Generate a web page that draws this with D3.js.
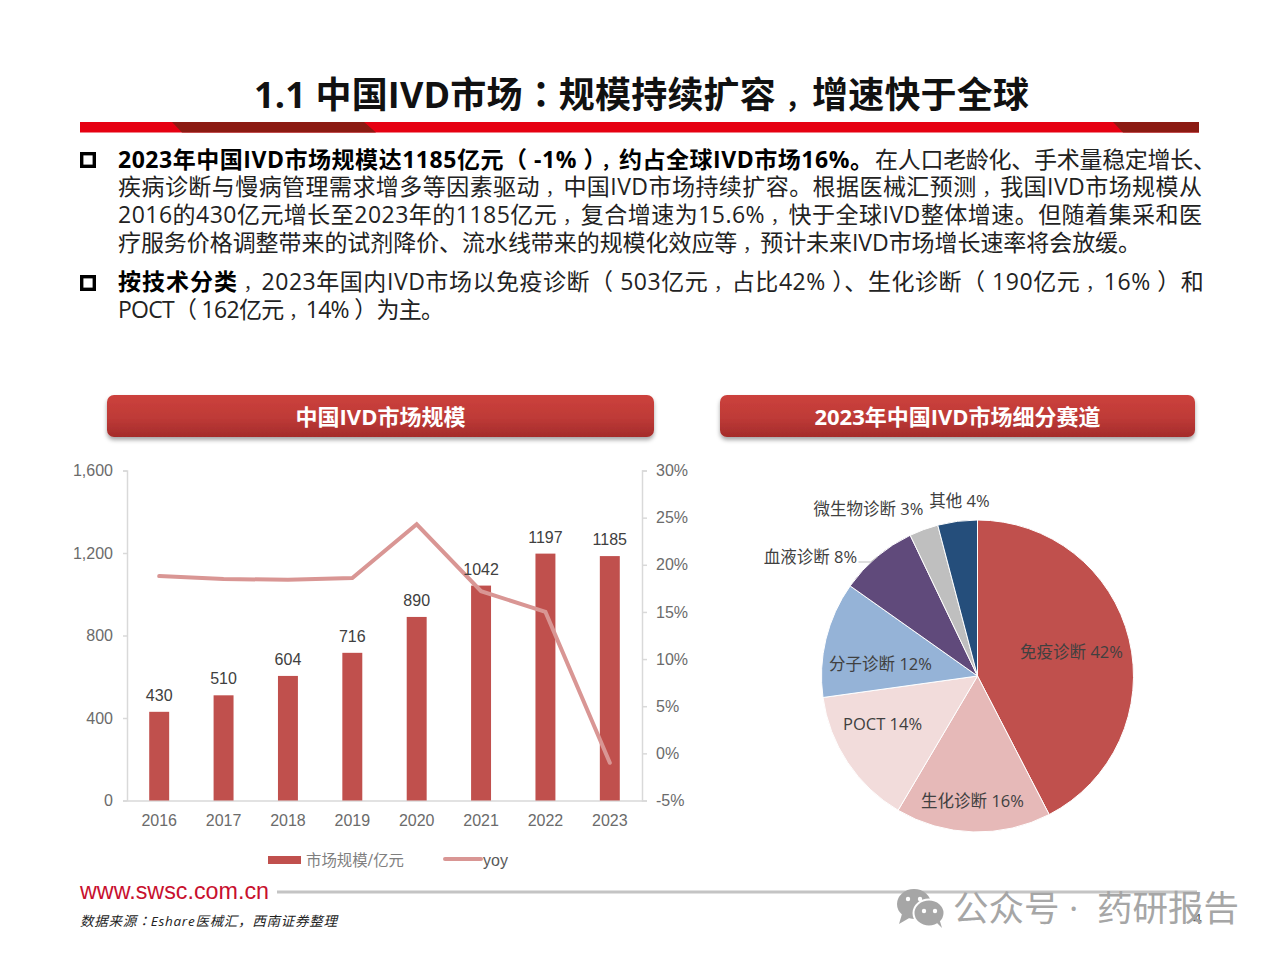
<!DOCTYPE html>
<html><head><meta charset="utf-8">
<script src="https://cdn.jsdelivr.net/npm/d3@7/dist/d3.min.js"></script>
<style>
@font-face{font-family:Punct;font-weight:400;src:local("Noto Sans CJK TC"),local("Noto Sans CJK TC Regular");unicode-range:U+FF1A}
@font-face{font-family:Punct;font-weight:700;src:local("Noto Sans CJK TC Bold");unicode-range:U+FF1A}
html,body{margin:0;padding:0;background:#fff}
svg{display:block}
text{font-family:Punct,"Open Sans","Noto Sans CJK SC",sans-serif}
</style></head><body>
<svg id="c" width="1280" height="960" viewBox="0 0 1280 960"></svg>
<script>
// ---------- data ----------
const years = ["2016","2017","2018","2019","2020","2021","2022","2023"];
const marketSize = [430,510,604,716,890,1042,1197,1185];
const yoy = [18.8,18.5,18.4,18.6,24.3,17.2,15.0,-1.0];
const leftTicks = [0,400,800,1200,1600];
const rightTicks = [-5,0,5,10,15,20,25,30];
const segNames = ["免疫诊断 42%","生化诊断 16%","POCT 14%","分子诊断 12%","血液诊断 8%","微生物诊断 3%","其他 4%"];
const segShares = [42.4,16.1,14.3,12.0,8.1,3.0,4.1];
const segColors = ["#C0504D","#E6B9B8","#F2DCDB","#95B3D7","#604A7B","#BFBFBF","#254E7B"];

const titleText = "1.1 中国IVD市场：规模持续扩容，增速快于全球";
// each piece: text, bold, left x, right x, baseline
const bodyPieces = [
  ["2023年中国IVD市场规模达1185亿元（ -1% ），约占全球IVD市场16%。",true,118,873,168],
  ["在人口老龄化、手术量稳定增长、",false,875,1216,168],
  ["疾病诊断与慢病管理需求增多等因素驱动，中国IVD市场持续扩容。根据医械汇预测，我国IVD市场规模从",false,118,1202,195],
  ["2016的430亿元增长至2023年的1185亿元，复合增速为15.6%，快于全球IVD整体增速。但随着集采和医",false,118,1202,223],
  ["疗服务价格调整带来的试剂降价、流水线带来的规模化效应等，预计未来IVD市场增长速率将会放缓。",false,118,1141,251],
  ["按技术分类",true,118,237,290],
  ["，2023年国内IVD市场以免疫诊断（ 503亿元，占比42% ）、生化诊断（ 190亿元，16% ）和",false,238,1198,290],
  ["POCT（ 162亿元，14% ）为主。",false,118,444,318]
];

// ---------- layout ----------
const svg = d3.select("#c");
const defs = svg.append("defs");
const grad = defs.append("linearGradient").attr("id","hdr").attr("x1",0).attr("x2",0).attr("y1",0).attr("y2",1);
grad.append("stop").attr("offset","0").attr("stop-color","#CC413C");
grad.append("stop").attr("offset","0.55").attr("stop-color","#BE3A37");
grad.append("stop").attr("offset","1").attr("stop-color","#A42C2A");
const sh = defs.append("filter").attr("id","sh").attr("x","-5%").attr("y","-20%").attr("width","110%").attr("height","150%");
sh.append("feDropShadow").attr("dx",0).attr("dy",3).attr("stdDeviation",2).attr("flood-color","#000").attr("flood-opacity",0.35);

// writes a string as tspans: full-width commas sit centred in their cell
function fillRuns(t, s, size){
  s.split(/(，)/).filter(p=>p!=="").forEach(p=>{
    const sp = t.append("tspan").text(p);
    if(p==="，") sp.attr("dx",size*0.25).attr("font-size",size*0.75);
  });
}

// title + bar
const titleEl = svg.append("text").attr("x",254).attr("y",108).attr("font-size",36).attr("font-weight",700).attr("fill","#111")
  .attr("textLength",775).attr("lengthAdjust","spacing");
fillRuns(titleEl,titleText,36);
svg.append("rect").attr("x",80).attr("y",122).attr("width",1119).attr("height",10.5).attr("fill","#E60012");
svg.append("polygon").attr("points","172,122 364,122 376,132.5 182,132.5").attr("fill","#8B1A12");
svg.append("polygon").attr("points","1113,122 1199,122 1199,132.5 1123,132.5").attr("fill","#8B1A12");

// bullets
[160,283].forEach(y=>svg.append("rect").attr("x",81.7).attr("y",y-6.3).attr("width",12.6).attr("height",12.6)
  .attr("fill","none").attr("stroke","#000").attr("stroke-width",3.4));

// body text
bodyPieces.forEach(([s,b,x0,x1,y])=>{
  const t = svg.append("text").attr("x",x0).attr("y",y).attr("font-size",23)
    .attr("font-weight",b?700:400).attr("fill",b?"#000":"#222")
    .attr("textLength",x1-x0).attr("lengthAdjust","spacing").attr("xml:space","preserve");
  fillRuns(t,s,23);
});

// panel headers
[[107,654,"中国IVD市场规模"],[720,1195,"2023年中国IVD市场细分赛道"]].forEach(([a,b,s])=>{
  svg.append("rect").attr("x",a).attr("y",395).attr("width",b-a).attr("height",42).attr("rx",7)
    .attr("fill","url(#hdr)").attr("filter","url(#sh)");
  svg.append("text").attr("x",(a+b)/2).attr("y",425).attr("text-anchor","middle").attr("font-size",22)
    .attr("font-weight",700).attr("fill","#fff").text(s);
});

// ---------- combo chart ----------
const plot = {l:127,r:642,t:470.5,b:800.5};
const x = d3.scaleBand().domain(years).range([plot.l,plot.r]).paddingInner(0.69).paddingOuter(0.345);
const yL = d3.scaleLinear().domain([0,1600]).range([plot.b,plot.t]);
const yR = d3.scaleLinear().domain([-5,30]).range([plot.b,plot.t]);
const chartFont = '"Liberation Sans",Arial,sans-serif';
const axisCol = "#D9D9D9", tickCol = "#6B6B6B";

function styleAxis(g){
  g.selectAll(".domain,.tick line").attr("stroke",axisCol).attr("stroke-width",1.5);
  g.selectAll("text").attr("fill",tickCol).style("font-family",chartFont).style("font-size","16px");
}
svg.append("g").attr("transform",`translate(${plot.l},0)`)
  .call(d3.axisLeft(yL).tickValues(leftTicks).tickSize(4).tickPadding(10).tickFormat(d3.format(",")))
  .call(styleAxis);
svg.append("g").attr("transform",`translate(${plot.r},0)`)
  .call(d3.axisRight(yR).tickValues(rightTicks).tickSize(5).tickPadding(9).tickFormat(d=>d+"%"))
  .call(styleAxis);
svg.append("g").attr("transform",`translate(0,${plot.b})`)
  .call(d3.axisBottom(x).tickSize(0).tickPadding(14))
  .call(styleAxis);

svg.append("g").selectAll("rect").data(years).join("rect")
  .attr("x",d=>x(d)).attr("width",x.bandwidth())
  .attr("y",(d,i)=>yL(marketSize[i])).attr("height",(d,i)=>plot.b-yL(marketSize[i]))
  .attr("fill","#C0504D");

const line = d3.line().x((d,i)=>x(years[i])+x.bandwidth()/2).y(d=>yR(d));
svg.append("path").datum(yoy).attr("d",line).attr("fill","none").attr("stroke","#D99694")
  .attr("stroke-width",4).attr("stroke-linecap","round").attr("stroke-linejoin","miter");

svg.append("g").selectAll("text").data(years).join("text")
  .attr("x",d=>x(d)+x.bandwidth()/2).attr("y",(d,i)=>yL(marketSize[i])-11)
  .attr("text-anchor","middle").attr("fill","#404040")
  .style("font-family",chartFont).style("font-size","16px").text((d,i)=>marketSize[i]);

// legend
svg.append("rect").attr("x",268).attr("y",856).attr("width",33).attr("height",8).attr("fill","#C0504D");
svg.append("text").attr("x",306).attr("y",866).attr("font-size",15.4).attr("fill","#7F7F7F").text("市场规模/亿元");
svg.append("line").attr("x1",445).attr("x2",481).attr("y1",859).attr("y2",859).attr("stroke","#D99694").attr("stroke-width",4).attr("stroke-linecap","round");
svg.append("text").attr("x",483).attr("y",866).attr("fill","#595959").style("font-family",chartFont).style("font-size","16px").text("yoy");

// ---------- pie ----------
const pieC = [977.5,676], pieR = 156;
const pie = d3.pie().sort(null).value(d=>d)(segShares);
const arc = d3.arc().innerRadius(0).outerRadius(pieR);
const pg = svg.append("g").attr("transform",`translate(${pieC})`);
pg.selectAll("path").data(pie).join("path").attr("d",arc)
  .attr("fill",(d,i)=>segColors[i]).attr("stroke","#fff").attr("stroke-width",1);
// label anchors relative to the pie centre
const labelAt = [[94,-24],[-5,125],[-95,48],[-97,-12],[-167,-119],[-109,-167],[-18,-175]];
svg.append("path").attr("d",`M${pieC[0]-119},${pieC[1]-114} L${pieC[0]-107},${pieC[1]-114} L${pieC[0]-100},${pieC[1]-119}`)
  .attr("fill","none").attr("stroke","#BFBFBF").attr("stroke-width",1);
pg.selectAll("text").data(segNames).join("text")
  .attr("x",(d,i)=>labelAt[i][0]).attr("y",(d,i)=>labelAt[i][1]).attr("dy","0.36em")
  .attr("text-anchor","middle").attr("font-size",16.5).attr("fill","#404040").text(d=>d);

// ---------- footer ----------
svg.append("text").attr("x",80).attr("y",899).attr("font-size",23).attr("fill","#C8102E")
  .style("font-family",chartFont).attr("textLength",189).attr("lengthAdjust","spacingAndGlyphs").text("www.swsc.com.cn");
svg.append("rect").attr("x",277).attr("y",890.5).attr("width",920).attr("height",3).attr("fill","#C4C4C4");
svg.append("text").attr("x",80).attr("y",926).attr("font-size",13.5).attr("font-style","italic").attr("fill","#222")
  .attr("textLength",257).attr("lengthAdjust","spacing").text("数据来源：Eshare医械汇，西南证券整理");
svg.append("text").attr("x",1193).attr("y",924).attr("font-size",15).attr("fill","#555").text("4");

// watermark
const wm = svg.append("g").attr("fill","#A6A6A6");
wm.append("ellipse").attr("cx",914).attr("cy",904).attr("rx",17).attr("ry",15);
wm.append("path").attr("d","M902 914 L899 924 L911 917 Z");
wm.append("ellipse").attr("cx",929).attr("cy",913).attr("rx",15.5).attr("ry",13.5).attr("stroke","#fff").attr("stroke-width",2);
wm.append("path").attr("d","M936 922 L942 928 L939 918 Z");
[[908,899],[920,899],[924,911],[935,911]].forEach(([a,b])=>wm.append("circle").attr("cx",a).attr("cy",b).attr("r",2.2).attr("fill","#fff"));
[[953,"公众号"],[1069,"·"],[1097,"药研报告"]].forEach(([px,s])=>
  svg.append("text").attr("x",px).attr("y",921).attr("font-size",35.5).attr("fill","#A6A6A6").text(s));
</script>
</body></html>
